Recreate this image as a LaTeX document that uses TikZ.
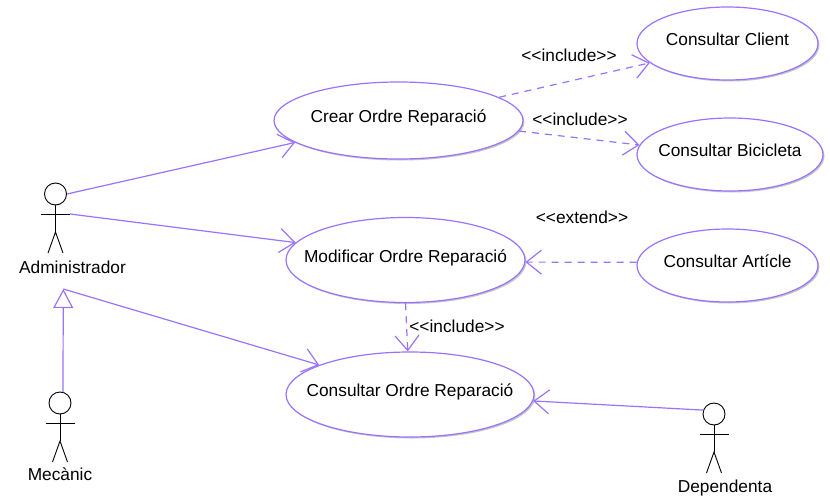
\documentclass[tikz,border=0pt]{standalone}
\usepackage{fontspec}
\setmainfont{Liberation Sans}
\usetikzlibrary{arrows.meta,shapes.geometric,shadows}
\definecolor{umlline}{RGB}{153,115,255}
\newcommand{\uctext}[1]{\makebox[0pt]{\smash{\raisebox{-2pt}{#1}}}}

\tikzset{
    usecase/.style={
        shape=ellipse,
        draw=umlline,
        fill=white,
        inner sep=0pt,
        line width=1.2pt,
        drop shadow={opacity=.45,shadow xshift=1.5pt,shadow yshift=-1.5pt}
    },
    actorhead/.style={shape=circle,draw=black,line width=.9pt,minimum size=22pt,inner sep=0pt},
    actorname/.style={inner sep=0pt},
    stereotype/.style={inner sep=0pt},
    assoc/.style={color=umlline,line width=1.2pt},
    dep/.style={color=umlline,line width=1.2pt,dash pattern=on 7pt off 6pt},
    pics/actor/.style={code={
        \node[actorhead] (-head) at (0,0) {};
        \draw[line width=.9pt] (-head.south) -- (0,38);
        \draw[line width=.9pt] (-14.5,20) -- (14.5,20);
        \draw[line width=.9pt] (-7.5,59) -- (0,38) -- (7.5,59);
    }}
}

\begin{document}
\begin{tikzpicture}[
            x = 1pt, y = -1pt,
            > = {Straight Barb[length=15pt,width=24pt,line width=1.2pt]}, % open head
            node distance = 73pt,
            font = \fontsize{17.3}{19}\selectfont
        ]
        \useasboundingbox (0,0) rectangle (830,498);

        % use cases
        \node[usecase,minimum width=249pt,minimum height=77pt] (Crear) at (398.5,120.5) {\uctext{Crear Ordre Reparació}};
        \node[usecase,minimum width=181pt,minimum height=73pt] (Client) at (727.5,43.5) {\uctext{Consultar Client}};
        \node[usecase,minimum width=186pt,minimum height=73pt] (Bicicleta) at (730,154.5) {\uctext{Consultar Bicicleta}};
        \node[usecase,minimum width=239pt,minimum height=85pt] (Modificar) at (405.5,260) {\uctext{Modificar Ordre Reparació}};
        \node[usecase,minimum width=181pt,minimum height=73pt] (Article) at (727.5,265.5) {\uctext{Consultar Artícle}};
        \node[usecase,minimum width=248pt,minimum height=85pt] (Ordre) at (410,394.5) {\uctext{Consultar Ordre Reparació}};

        % actors
        \pic (Admin) at (55.5,194) {actor};
        \pic (Mecanic) at (60,403) {actor};
        \pic (Dependenta) at (714,414) {actor};
        \node[actorname,below of=Admin-head,xshift=17pt] (AdminName) {Administrador};
        \node[actorname,below of=Mecanic-head,node distance=71pt] (MecanicName) {Mecànic};
        \node[actorname,below of=Dependenta-head,node distance=74pt,xshift=11pt] (DependentaName) {Dependenta};
        \coordinate (AdminTip) at (63.3,289);
        \coordinate (AdminArm) at (70,214);

        % labels
        \node[stereotype] (IncA) at (569,55) {<{}<include>{}>};
        \node[stereotype] (IncB) at (580,119) {<{}<include>{}>};
        \node[stereotype] (Ext) at (582,217) {<{}<extend>{}>};
        \node[stereotype] (IncC) at (457,326) {<{}<include>{}>};

        \path[assoc,->] (Admin-head.east) edge (Crear.192.3);
        \path[assoc,->] (AdminArm) edge (Modificar.171.4);
        \path[assoc,->] (AdminTip) edge (Ordre.162);
        \path[assoc,->] (Dependenta-head.160) edge (Ordre.-3);
        \path[assoc,-{Triangle[open,length=19pt,width=20pt,line width=1.2pt]}] (Mecanic-head.75) edge (AdminTip);

        \path[dep,->] (Crear.13.4) edge (Client.194);
        \path[dep,->] (Crear.-5.4) edge (Bicicleta.174.6);
        \path[dep,->] (Article.178) edge (Modificar.-1);
        \path[dep,->] (Modificar.south) edge (Ordre.93);
    \end{tikzpicture}
\end{document}
